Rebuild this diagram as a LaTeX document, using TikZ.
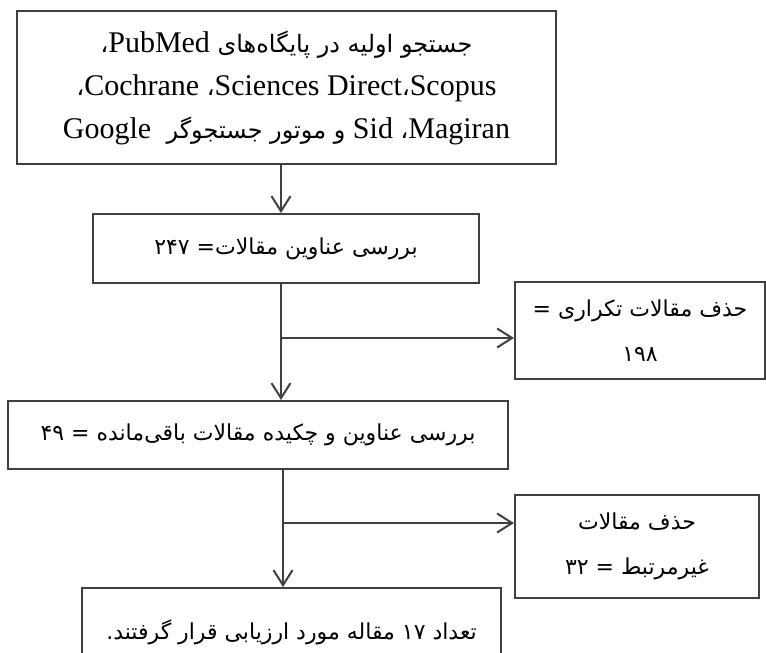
\documentclass[tikz,border=0pt]{standalone}
\usepackage{fontspec}
\setmainfont{Liberation Serif}
\newfontfamily\farsi[Script=Arabic]{DejaVu Sans}
\TeXXeTstate=1
\usetikzlibrary{positioning}
\usetikzlibrary{arrows.meta}
\definecolor{edgegray}{RGB}{64,64,64}
\newcommand{\latword}[1]{{\rmfamily\fontsize{30}{43}\selectfont #1}}
\tikzset{
  stagebox/.style={draw=edgegray,line width=2pt,inner sep=0pt,align=center,
    font=\farsi\fontsize{22}{45}\selectfont},
  flow/.style={draw=edgegray,line width=2pt,
    -{Straight Barb[length=15pt,width=19pt,line width=2pt]}}
}

\begin{document}
\begin{tikzpicture}[x=1pt,y=-1pt]
\useasboundingbox (0,0) rectangle (766,653);
  \node[stagebox,minimum width=539pt,minimum height=153pt,font=\farsi\fontsize{24}{43}\selectfont] (search) at (286.5,87.5)
    {\beginR جستجو اولیه در پایگاه‌های \latword{PubMed}،\endR\\
     \beginR\latword{Scopus}،\latword{\beginL Sciences Direct\endL}، \latword{Cochrane}،\endR\\
     \beginR\latword{Magiran}، \latword{Sid} و موتور جستجوگر \ \latword{Google}\endR};
  \node[stagebox,minimum width=386pt,minimum height=69pt] (titles) at (286,248.5)
    {\beginR بررسی عناوین مقالات= ۲۴۷\endR};
  \node[stagebox,minimum width=250pt,minimum height=97pt] (dup) at (640,330.5)
    {\beginR حذف مقالات تکراری =\endR\\ \beginR ۱۹۸\endR};
  \node[stagebox,minimum width=500pt,minimum height=68pt] (abstracts) at (258,435)
    {\beginR بررسی عناوین و چکیده مقالات باقی‌مانده = ۴۹\endR};
  \node[stagebox,minimum width=244pt,minimum height=103pt] (irrel) at (637,546.5)
    {\beginR حذف مقالات\endR\\ \beginR غیرمرتبط = ۳۲\endR};
  \node[stagebox,minimum width=419pt,minimum height=88pt] (final) at (291.5,632)
    {\beginR تعداد ۱۷ مقاله مورد ارزیابی قرار گرفتند.\endR};

  \coordinate (split1) at (281,338);
  \coordinate (split2) at (283,523);
  \draw[flow] (search.south -| split1) -- (titles.north -| split1);
  \draw[flow] (titles.south -| split1) -- (abstracts.north -| split1);
  \draw[flow] (split1) -- (split1 -| dup.west);
  \draw[flow] (abstracts.south -| split2) -- (final.north -| split2);
  \draw[flow] (split2) -- (split2 -| irrel.west);
\end{tikzpicture}
\end{document}
